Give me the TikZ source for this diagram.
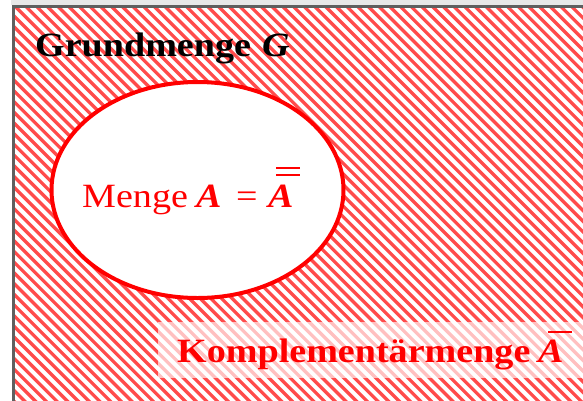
\documentclass[tikz,border=0pt]{standalone}
\usepackage{fontspec}
\setmainfont{Liberation Serif}
\definecolor{hatchred}{RGB}{255,75,75}
\definecolor{bordergray}{RGB}{95,95,95}
\begin{document}
\begin{tikzpicture}[x=1pt,y=-1pt,
  hatch/.style={draw=hatchred,line width=3.3pt},
  txt/.style={inner sep=0pt,anchor=base west,font=\fontsize{34}{36}\selectfont},
  bar/.style={draw=red,line width=2pt}]
\useasboundingbox (0,0) rectangle (583,400);
\fill[gray!18] (11,0) rectangle (583,5);
\begin{scope}
  \clip (13,6) rectangle (600,420);
  \foreach \c in {-430,-419.3,...,600} \draw[hatch] (\c,0) -- ++(430,430);
\end{scope}
\draw[bordergray,line width=3pt] (13,420) -- (13,6.5) -- (620,6.5);
\draw[red,line width=4pt,fill=white] (197.5,190) ellipse [x radius=146, y radius=108];
\fill[white,opacity=0.65] (158,322) rectangle (583,378);
% Grundmenge G
\node[txt] (grund) at (35,56) {\scalebox{1.12}[1]{\bfseries Grundmenge}};
\node[txt] (G) at (262,56) {\scalebox{1.12}[1]{\bfseries\itshape G}};
% Menge A = A
\node[txt,text=red] (menge) at (82,207) {\scalebox{1.12}[1]{Menge}};
\node[txt,text=red] (A1) at (196,207) {\scalebox{1.12}[1]{\bfseries\itshape A}};
\node[txt,text=red] (eq) at (236,207) {\scalebox{1.12}[1]{=}};
\node[txt,text=red] (A2) at (268,207) {\scalebox{1.12}[1]{\bfseries\itshape A}};
\draw[bar] (276,168) -- (300,168);
\draw[bar] (276,175) -- (300,175);
% Komplementaermenge
\node[txt,text=red] (komp) at (177,362) {\scalebox{1.12}[1]{\bfseries Komplementärmenge}};
\node[txt,text=red] (A3) at (538,362) {\scalebox{1.12}[1]{\bfseries\itshape A}};
\draw[bar] (548,332) -- (572,332);
\end{tikzpicture}
\end{document}
